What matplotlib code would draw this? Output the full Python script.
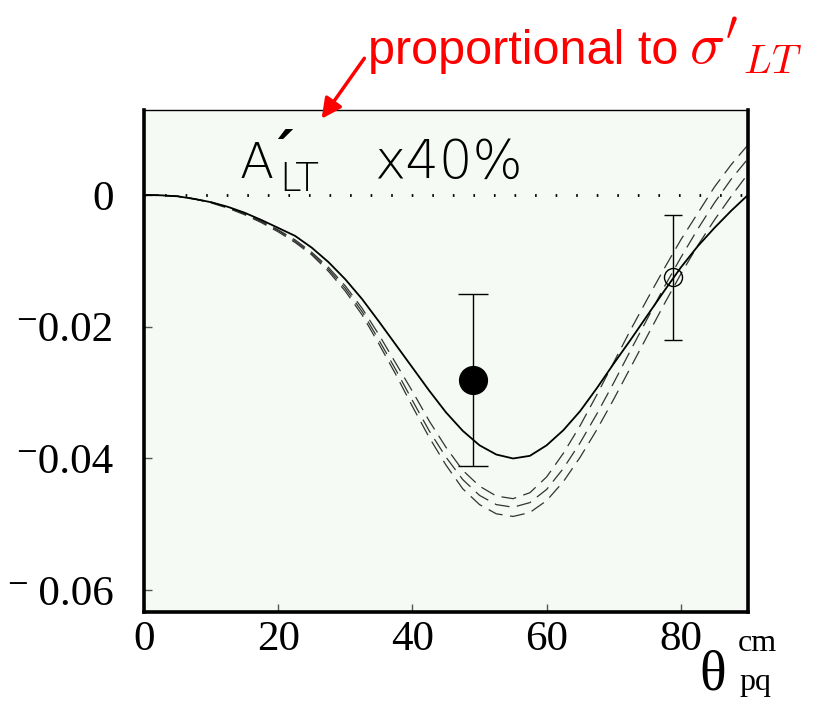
import numpy as np
import matplotlib
matplotlib.use("Agg")
import matplotlib.pyplot as plt
from matplotlib.patches import FancyArrowPatch

# angulos (grados) donde se leyeron las curvas
theta = [0, 2.5, 5, 7.5, 10, 12.5, 15, 17.5, 20, 22.5, 25, 27.5, 30, 32.5, 35, 37.5,
         40, 42.5, 45, 47.5, 50, 52.5, 55, 57.5, 60, 62.5, 65, 67.5, 70, 72.5, 75,
         77.5, 80, 82.5, 85, 87.5, 90]

# curva continua
a_solid = [0.0, -0.00005, -0.0002, -0.0006, -0.0011, -0.0018, -0.0027, -0.0038, -0.0050,
           -0.0062, -0.0080, -0.0102, -0.0128, -0.0158, -0.0192, -0.0227, -0.0262, -0.0297,
           -0.0330, -0.0358, -0.0380, -0.0394, -0.0400, -0.0396, -0.0380, -0.0357, -0.0328,
           -0.0293, -0.0256, -0.0220, -0.0183, -0.0146, -0.0110, -0.0078, -0.0050, -0.0024, 0.0]

# curvas a trazos
a_dash1 = [0.0, -0.00005, -0.0002, -0.0006, -0.0011, -0.0019, -0.0029, -0.0040, -0.0053,
           -0.0068, -0.0087, -0.0110, -0.0138, -0.0172, -0.0212, -0.0255, -0.0298, -0.0343,
           -0.0383, -0.0418, -0.0442, -0.0457, -0.0461, -0.0452, -0.0428, -0.0392, -0.0350,
           -0.0303, -0.0254, -0.0205, -0.0158, -0.0112, -0.0068, -0.0028, 0.0012, 0.0046, 0.0076]
a_dash2 = [0.0, -0.00005, -0.0002, -0.0006, -0.0011, -0.0019, -0.0029, -0.0041, -0.0054,
           -0.0070, -0.0089, -0.0113, -0.0142, -0.0177, -0.0220, -0.0265, -0.0312, -0.0358,
           -0.0398, -0.0432, -0.0456, -0.0470, -0.0474, -0.0467, -0.0447, -0.0415, -0.0376,
           -0.0332, -0.0285, -0.0236, -0.0188, -0.0140, -0.0095, -0.0052, -0.0012, 0.0024, 0.0055]
a_dash3 = [0.0, -0.00005, -0.0002, -0.0006, -0.0012, -0.0020, -0.0030, -0.0042, -0.0056,
           -0.0072, -0.0091, -0.0116, -0.0146, -0.0182, -0.0226, -0.0272, -0.0321, -0.0368,
           -0.0410, -0.0446, -0.0470, -0.0484, -0.0488, -0.0482, -0.0464, -0.0435, -0.0398,
           -0.0356, -0.0310, -0.0262, -0.0214, -0.0166, -0.0120, -0.0077, -0.0038, -0.0002, 0.0032]

# puntos experimentales
pt_x = [49.0, 78.8]
pt_y = [-0.0281, -0.0125]
pt_err = [0.0130, 0.0095]

xticks = [0, 20, 40, 60, 80]
yticks = [0, -0.02, -0.04, -0.06]
yticklabels = ['0', '\u207b0.02', '\u207b0.04', '\u207b\u20090.06']

###############################################################################
fig = plt.figure(figsize=(8.13, 7.01), dpi=100)
ax = fig.add_axes([0.1771, 0.1270, 0.7429, 0.7161])
ax.set_facecolor('#f5faf4')

ax.axhline(0, color='black', lw=2.0, ls=(0, (0.6, 6.8)), zorder=1)

for d in (a_dash1, a_dash2, a_dash3):
    ax.plot(theta, d, color='#333333', lw=0.9, ls=(0, (12, 6)), zorder=2)
ax.plot(theta, a_solid, color='black', lw=1.3, zorder=3)

# punto lleno
ax.errorbar(pt_x[0], pt_y[0], yerr=pt_err[0], fmt='o', ms=20, color='black',
            mfc='black', ecolor='black', elinewidth=1.0, capsize=10.5, capthick=1.0, zorder=4)
# punto vacio
ax.errorbar(pt_x[1], pt_y[1], yerr=pt_err[1], fmt='o', ms=13, color='black',
            mfc='none', mew=1.0, ecolor='black', elinewidth=1.0, capsize=6.5, capthick=1.0, zorder=4)

ax.set_xlim(0, 90)
ax.set_ylim(-0.0633, 0.0129)
ax.set_xticks(xticks)
ax.set_xticklabels([str(t) for t in xticks])
ax.set_yticks(yticks)
ax.set_yticklabels(yticklabels)
ax.tick_params(direction='in', length=6, width=1, color='#555555', pad=6)
ax.tick_params(axis='y', pad=22)
serif = ['Liberation Serif', 'DejaVu Serif']
for lab in ax.get_xticklabels() + ax.get_yticklabels():
    lab.set_fontfamily(serif)
    lab.set_fontsize(31)

for s in ('left', 'bottom', 'right'):
    ax.spines[s].set_linewidth(2.6)
ax.spines['top'].set_linewidth(1.0)

# texto A'_LT x40%
ax.text(14.3, 0.0026, 'A', fontsize=36, family='DejaVu Sans', fontweight='light',
        ha='left', va='baseline')
ax.text(20.2, 0.0006, 'LT', fontsize=28, family='DejaVu Sans', fontweight='light',
        ha='left', va='baseline')
ax.text(18.4, 0.0034, '\u00b4', fontsize=40, family='DejaVu Sans', fontweight='bold',
        ha='left', va='baseline')
ax.text(34.3, 0.0026, 'x40%', fontsize=38, family='DejaVu Sans', fontweight='light',
        ha='left', va='baseline')

# etiqueta eje x
fig.text(699 / 813, 1 - 690 / 701, '\u03b8', fontsize=40, family=serif,
         ha='left', va='baseline')
fig.text(738 / 813, 1 - 651 / 701, 'cm', fontsize=23, family=serif,
         ha='left', va='baseline')
fig.text(739 / 813, 1 - 690 / 701, 'pq', fontsize=23, family=serif,
         ha='left', va='baseline')

# anotacion roja
fig.text(368 / 813, 1 - 64 / 701, 'proportional to', fontsize=35, color='red',
         family='Liberation Sans', ha='left', va='baseline')
fig.text(689 / 813, 1 - 64 / 701, r"$\sigma'_{LT}$", fontsize=42, color='red',
         math_fontfamily='cm', ha='left', va='baseline')
arrow = FancyArrowPatch((366 / 813, 1 - 56 / 701), (320 / 813, 1 - 121 / 701),
                        transform=fig.transFigure, arrowstyle='-|>', mutation_scale=30,
                        color='red', lw=2.5)
fig.add_artist(arrow)

fig.savefig('out.png', dpi=100)
